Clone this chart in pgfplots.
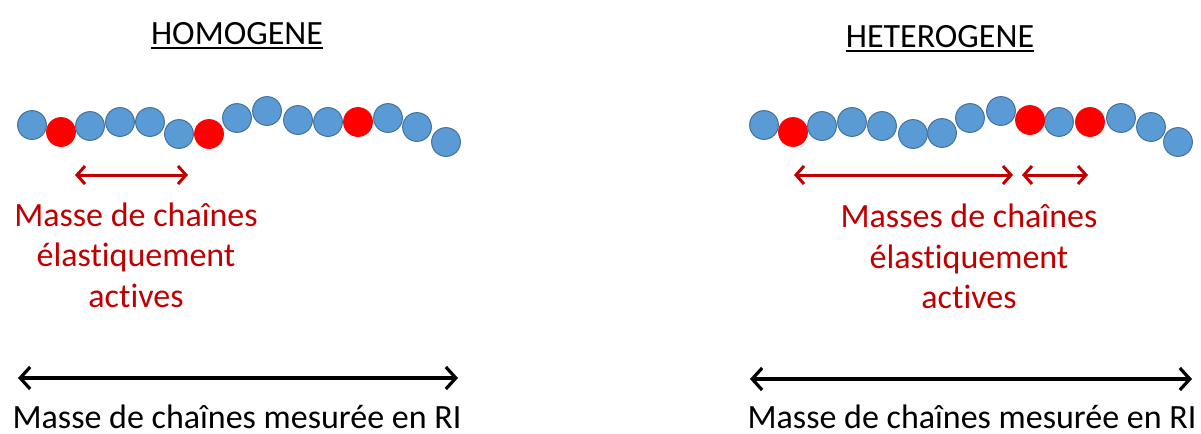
\documentclass[border=0pt]{standalone}
\usepackage{pgfplots}
\pgfplotsset{compat=1.18}
\usepackage{fontspec}
\setmainfont{Carlito}[Ligatures=NoCommon]
\usetikzlibrary{arrows.meta}
\definecolor{cblue}{HTML}{5B9BD5}
\definecolor{cbluedk}{HTML}{41719C}
\definecolor{cred}{HTML}{FF0000}
\definecolor{credtxt}{HTML}{C00000}
\newcommand{\ul}[1]{\setbox0\hbox{#1}\leavevmode\rlap{\rule[-2.6pt]{\wd0}{1.1pt}}\box0}
\begin{document}
\fontsize{17}{20}\selectfont
\begin{tikzpicture}[font=\fontsize{17}{20}\selectfont]
\begin{axis}[
  scale only axis, width=600.5pt, height=217pt,
  xmin=0, xmax=1201, ymin=0, ymax=434, y dir=reverse,
  axis lines=none, clip=false,
]
\path (axis cs:0,0) rectangle (axis cs:1201,434);
% left chain
\addplot[only marks, mark=*, mark size=7.2pt, mark options={fill=cblue, draw=cbluedk, line width=0.5pt}] coordinates {
(32,125) (90,126) (120,122) (150,122) (179,134) (237,118) (267,111) (298,120) (328,122) (388,118) (417,127) (446,142)};
\addplot[only marks, mark=*, mark size=7.2pt, mark options={fill=cred, draw=cred, line width=0.5pt}] coordinates {
(61,132) (209,134) (358,122)};
% right chain
\addplot[only marks, mark=*, mark size=7.2pt, mark options={fill=cblue, draw=cbluedk, line width=0.5pt}] coordinates {
(764,125) (822,126) (852,122) (882,126) (913,134) (942,133) (970,118) (1001,111) (1059,122) (1121,118) (1151,127) (1178,142)};
\addplot[only marks, mark=*, mark size=7.2pt, mark options={fill=cred, draw=cred, line width=0.5pt}] coordinates {
(793,132) (1030,120) (1090,122)};
% red arrows
\addplot[credtxt, line width=1.5pt, {Straight Barb[length=4pt,width=9pt]}-{Straight Barb[length=4pt,width=9pt]}] coordinates {(75,175) (188,175)};
\addplot[credtxt, line width=1.5pt, {Straight Barb[length=4pt,width=9pt]}-{Straight Barb[length=4pt,width=9pt]}] coordinates {(794,175) (1013,175)};
\addplot[credtxt, line width=1.5pt, {Straight Barb[length=4pt,width=9pt]}-{Straight Barb[length=4pt,width=9pt]}] coordinates {(1022,175) (1088,175)};
% black arrows
\addplot[black, line width=1.6pt, {Straight Barb[length=5pt,width=11pt]}-{Straight Barb[length=5pt,width=11pt]}] coordinates {(18,378) (458,378)};
\addplot[black, line width=1.6pt, {Straight Barb[length=5pt,width=11pt]}-{Straight Barb[length=5pt,width=11pt]}] coordinates {(750,379) (1192,379)};
% titles
\node[anchor=base, inner sep=0pt, font=\fontsize{17}{20}\selectfont] at (axis cs:237,44) {\ul{HOMOGENE}};
\node[anchor=base, inner sep=0pt, font=\fontsize{17}{20}\selectfont] at (axis cs:940,47) {\ul{HETEROGENE}};
% red text
\node[anchor=base, inner sep=0pt, text=credtxt, font=\fontsize{17}{20}\selectfont] at (axis cs:136,226) {Masse de chaînes};
\node[anchor=base, inner sep=0pt, text=credtxt, font=\fontsize{17}{20}\selectfont] at (axis cs:136,266) {élastiquement};
\node[anchor=base, inner sep=0pt, text=credtxt, font=\fontsize{17}{20}\selectfont] at (axis cs:136,307) {actives};
\node[anchor=base, inner sep=0pt, text=credtxt, font=\fontsize{17}{20}\selectfont] at (axis cs:969,227) {Masses de chaînes};
\node[anchor=base, inner sep=0pt, text=credtxt, font=\fontsize{17}{20}\selectfont] at (axis cs:969,268) {élastiquement};
\node[anchor=base, inner sep=0pt, text=credtxt, font=\fontsize{17}{20}\selectfont] at (axis cs:969,308) {actives};
% bottom text
\node[anchor=base, inner sep=0pt, font=\fontsize{17}{20}\selectfont] at (axis cs:237,428) {Masse de chaînes mesurée en RI};
\node[anchor=base, inner sep=0pt, font=\fontsize{17}{20}\selectfont] at (axis cs:972,428) {Masse de chaînes mesurée en RI};
\end{axis}
\end{tikzpicture}
\end{document}
